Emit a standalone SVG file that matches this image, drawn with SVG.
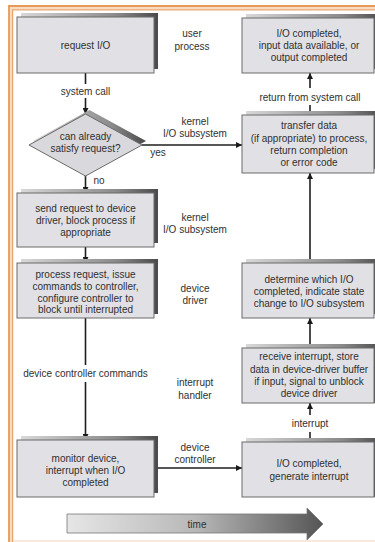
<svg xmlns="http://www.w3.org/2000/svg" width="375" height="542" viewBox="0 0 375 542">
<defs>
<linearGradient id="sh" x1="0" y1="0" x2="1" y2="0">
<stop offset="0" stop-color="#d8d8d8"/>
<stop offset="0.7" stop-color="#8a8a8a"/>
<stop offset="1" stop-color="#4a4a4a"/>
</linearGradient>
<linearGradient id="tg" x1="0" y1="0" x2="1" y2="0">
<stop offset="0" stop-color="#e6e6e6"/>
<stop offset="0.5" stop-color="#b8b8b8"/>
<stop offset="1" stop-color="#555"/>
</linearGradient>
<marker id="ah" viewBox="0 0 10 10" refX="10" refY="5" markerWidth="6" markerHeight="6" markerUnits="userSpaceOnUse" orient="auto">
<path d="M0,0 L10,5 L0,10 z" fill="#1a1a1a"/>
</marker>
<style>
.box{fill:#e1e0e5;stroke:#6a6a6a;stroke-width:1}
.shd{fill:url(#sh)}
.t{font-family:"Liberation Sans",Arial,Helvetica,sans-serif;font-size:10px;fill:#303030;text-anchor:middle}
.c{stroke:#1e1e1e;stroke-width:1.6;fill:none}
.a{stroke:#1e1e1e;stroke-width:1.6;fill:none;marker-end:url(#ah)}
</style>
</defs>
<rect width="375" height="542" fill="#ffffff"/>
<g id="frame">
<path d="M10.8,542 V7.8 H375" fill="none" stroke="#f6dcc2" stroke-width="4"/>
<path d="M9,542 V6 H375" fill="none" stroke="#e79a58" stroke-width="1.8"/>
<path d="M12.6,542 V9.8 H375" fill="none" stroke="#eba66b" stroke-width="1.3"/>
<line x1="13" y1="541" x2="375" y2="541" stroke="#f7e2d0" stroke-width="1.5"/>
</g>
<g id="connectors">
<line class="c" x1="85.5" y1="73" x2="85.5" y2="84"/>
<line class="a" x1="85.5" y1="98" x2="85.5" y2="114"/>
<line class="a" x1="142" y1="145" x2="242" y2="145"/>
<line class="a" x1="85.5" y1="174" x2="85.5" y2="193"/>
<line class="a" x1="85.5" y1="247" x2="85.5" y2="263"/>
<line class="c" x1="85.5" y1="318" x2="85.5" y2="365"/>
<line class="a" x1="85.5" y1="382" x2="85.5" y2="440"/>
<line class="a" x1="154" y1="468" x2="242" y2="468"/>
<line class="c" x1="310" y1="442" x2="310" y2="432"/>
<line class="a" x1="310" y1="415" x2="310" y2="403"/>
<line class="a" x1="310" y1="348" x2="310" y2="318"/>
<line class="a" x1="310" y1="263" x2="310" y2="173"/>
<line class="c" x1="310" y1="115" x2="310" y2="105"/>
<line class="a" x1="310" y1="88" x2="310" y2="73"/>
<text class="t" x="85.5" y="95">system call</text>
<text class="t" x="158" y="156">yes</text>
<text class="t" x="99" y="184">no</text>
<text class="t" x="85.5" y="377">device controller commands</text>
<text class="t" x="310" y="427">interrupt</text>
<text class="t" x="310" y="100.5">return from system call</text>
</g>
<g id="n-request">
<rect class="shd" x="21" y="13" width="137" height="56"/>
<rect class="box" x="17" y="17" width="137" height="56"/>
<text class="t" x="85.5" y="48.5">request I/O</text>
</g>
<g id="n-diamond">
<polygon points="89.5,110 146,141 89.5,172 33,141" fill="url(#sh)"/>
<polygon points="85.5,114 142,145 85.5,176 29,145" fill="#d9d8dc" stroke="#6a6a6a" stroke-width="1"/>
<text class="t" x="85.5" y="140">can already</text>
<text class="t" x="85.5" y="152">satisfy request?</text>
</g>
<g id="n-send">
<rect class="shd" x="21" y="189" width="137" height="54"/>
<rect class="box" x="17" y="193" width="137" height="54"/>
<text class="t" x="85.5" y="212">send request to device</text>
<text class="t" x="85.5" y="224">driver, block process if</text>
<text class="t" x="85.5" y="236">appropriate</text>
</g>
<g id="n-process">
<rect class="shd" x="21" y="259" width="137" height="55"/>
<rect class="box" x="17" y="263" width="137" height="55"/>
<text class="t" x="85.5" y="277.5">process request, issue</text>
<text class="t" x="85.5" y="289.5">commands to controller,</text>
<text class="t" x="85.5" y="301.5">configure controller to</text>
<text class="t" x="85.5" y="313">block until interrupted</text>
</g>
<g id="n-monitor">
<rect class="shd" x="21" y="436" width="137" height="57"/>
<rect class="box" x="17" y="440" width="137" height="57"/>
<text class="t" x="85.5" y="461.5">monitor device,</text>
<text class="t" x="85.5" y="473.5">interrupt when I/O</text>
<text class="t" x="85.5" y="485.5">completed</text>
</g>
<g id="n-iodone">
<rect class="shd" x="246" y="14" width="137" height="55"/>
<rect class="box" x="242" y="18" width="132" height="55"/>
<text class="t" x="309" y="36.5">I/O completed,</text>
<text class="t" x="309" y="48.5">input data available, or</text>
<text class="t" x="309" y="60.5">output completed</text>
</g>
<g id="n-transfer">
<rect class="shd" x="246" y="111" width="137" height="58"/>
<rect class="box" x="242" y="115" width="132" height="58"/>
<text class="t" x="309" y="129">transfer data</text>
<text class="t" x="309" y="141.5">(if appropriate) to process,</text>
<text class="t" x="309" y="154">return completion</text>
<text class="t" x="309" y="166">or error code</text>
</g>
<g id="n-determine">
<rect class="shd" x="246" y="259" width="137" height="55"/>
<rect class="box" x="242" y="263" width="132" height="55"/>
<text class="t" x="309" y="282.5">determine which I/O</text>
<text class="t" x="309" y="294.5">completed, indicate state</text>
<text class="t" x="309" y="306.5">change to I/O subsystem</text>
</g>
<g id="n-receive">
<rect class="shd" x="246" y="344" width="137" height="59"/>
<rect class="box" x="242" y="348" width="132" height="55"/>
<text class="t" x="309" y="360">receive interrupt, store</text>
<text class="t" x="309" y="372.5">data in device-driver buffer</text>
<text class="t" x="309" y="385">if input, signal to unblock</text>
<text class="t" x="309" y="397">device driver</text>
</g>
<g id="n-generate">
<rect class="shd" x="246" y="438" width="137" height="59"/>
<rect class="box" x="242" y="442" width="132" height="55"/>
<text class="t" x="309" y="466.5">I/O completed,</text>
<text class="t" x="309" y="480">generate interrupt</text>
</g>
<g id="layers">
<text class="t" x="192" y="37">user</text>
<text class="t" x="192" y="50">process</text>
<text class="t" x="195" y="125">kernel</text>
<text class="t" x="195" y="137">I/O subsystem</text>
<text class="t" x="195" y="221">kernel</text>
<text class="t" x="195" y="233">I/O subsystem</text>
<text class="t" x="195" y="292">device</text>
<text class="t" x="195" y="303.5">driver</text>
<text class="t" x="195" y="386">interrupt</text>
<text class="t" x="195" y="398.5">handler</text>
<text class="t" x="195" y="450.5">device</text>
<text class="t" x="195" y="462.5">controller</text>
</g>
<g id="time">
<polygon points="67,514 307,514 307,508 323,524 307,540 307,533 67,533" fill="url(#tg)" stroke="#777" stroke-width="0.8"/>
<text class="t" x="197" y="527.5">time</text>
</g>
</svg>
